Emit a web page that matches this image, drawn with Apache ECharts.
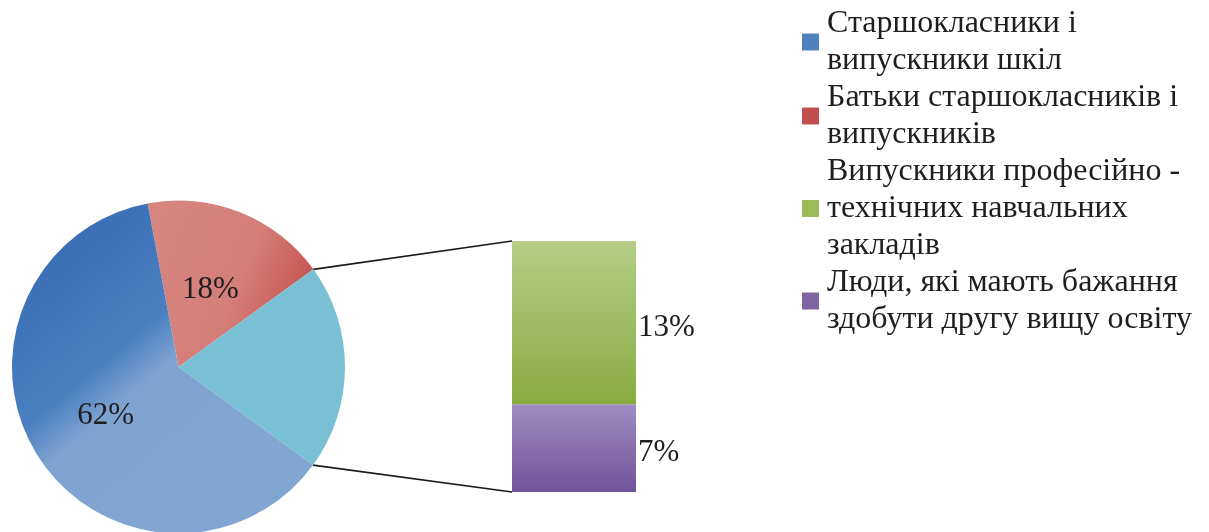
<!DOCTYPE html>
<html>
<head>
<meta charset="utf-8">
<script src="https://cdn.jsdelivr.net/npm/echarts@6/dist/echarts.min.js"></script>
<style>
  html, body { margin: 0; padding: 0; background: #fff; }
  #chart { width: 1209px; height: 532px; }
</style>
</head>
<body>
<div id="chart"></div>
<script>
// Pie slices (clockwise from the start angle) and the breakdown bar of the "other" slice
const pieNames = ['Батьки старшокласників і випускників', 'Інші', 'Старшокласники і випускники шкіл'];
const pieValues = [18, 20, 62];
const barNames = ['Люди, які мають бажання здобути другу вищу освіту', 'Випускники професійно - технічних навчальних закладів'];
const barValues = [7, 13];
const legendOrder = [
  'Старшокласники і випускники шкіл',
  'Батьки старшокласників і випускників',
  'Випускники професійно - технічних навчальних закладів',
  'Люди, які мають бажання здобути другу вищу освіту'
];
const legendLines = {
  'Старшокласники і випускники шкіл': 'Старшокласники і\nвипускники шкіл',
  'Батьки старшокласників і випускників': 'Батьки старшокласників і\nвипускників',
  'Випускники професійно - технічних навчальних закладів': 'Випускники професійно -\nтехнічних навчальних\nзакладів',
  'Люди, які мають бажання здобути другу вищу освіту': 'Люди, які мають бажання\nздобути другу вищу освіту'
};
const legendColors = ['#4f81bd', '#c0504d', '#9bbb59', '#8064a2'];

const FONT = '"Liberation Serif", "DejaVu Serif", serif';
const TEXT = '#1e1e1e';
const CX = 178.5, CY = 367, R = 166.5;
const START = 100.7;

const sliceStyles = [
  { color: { type: 'linear', x: 0, y: 0.3, x2: 1, y2: 0.7, colorStops: [
      { offset: 0, color: '#d6857f' }, { offset: 0.55, color: '#d47d79' }, { offset: 1, color: '#c24c48' }] } },
  { color: '#79c0d4' },
  { color: { type: 'linear', x: 0.15, y: 0.1, x2: 0.75, y2: 0.75, colorStops: [
      { offset: 0, color: '#3a6db5' }, { offset: 0.45, color: '#4a80c1' }, { offset: 0.6, color: '#7ea3d1' }, { offset: 1, color: '#82a6d2' }] } }
];
const barStyles = [
  { color: { type: 'linear', x: 0, y: 0, x2: 0, y2: 1, colorStops: [
      { offset: 0, color: '#9f8dc2' }, { offset: 1, color: '#70539a' }] } },
  { color: { type: 'linear', x: 0, y: 0, x2: 0, y2: 1, colorStops: [
      { offset: 0, color: '#b5cd86' }, { offset: 1, color: '#88ab41' }] } }
];

const chart = echarts.init(document.getElementById('chart'), null, { renderer: 'canvas' });

const pctLabel = { fontFamily: FONT, fontSize: 31, color: TEXT };

const option = {
  animation: false,
  backgroundColor: '#ffffff',
  legend: {
    orient: 'vertical',
    left: 802,
    top: 5,
    padding: 0,
    itemGap: 0,
    itemWidth: 17,
    itemHeight: 17,
    icon: 'rect',
    selectedMode: false,
    data: legendOrder.map((n, i) => ({ name: n, itemStyle: { color: legendColors[i] } })),
    formatter: n => legendLines[n],
    textStyle: { fontFamily: FONT, fontSize: 32, color: TEXT, lineHeight: 37, padding: [0, 0, 0, 3] }
  },
  grid: { left: 512, top: 241, width: 124, height: 251 },
  xAxis: { type: 'category', data: ['x'], show: false },
  yAxis: { type: 'value', min: 0, max: barValues.reduce((a, b) => a + b, 0), show: false },
  series: [
    {
      type: 'pie',
      center: [CX, CY],
      radius: R,
      startAngle: START,
      clockwise: true,
      silent: true,
      label: { show: false },
      labelLine: { show: false },
      data: pieNames.map((n, i) => ({
        name: n,
        value: pieValues[i],
        itemStyle: sliceStyles[i],
        label: i === 1 ? { show: false } : Object.assign({ show: true, position: 'inside', formatter: '{c}%', offset: [0, 3] }, pctLabel)
      }))
    },
    ...barNames.map((n, i) => ({
      type: 'bar',
      name: n,
      stack: 'other',
      barWidth: '100%',
      silent: true,
      itemStyle: barStyles[i],
      label: Object.assign({ show: true, position: 'right', distance: 2, offset: [0, 5], formatter: '{c}%' }, pctLabel),
      data: [barValues[i]]
    }))
  ]
};
chart.setOption(option);

// Connector lines from the "other" slice edges to the bar corners
const toRad = d => d * Math.PI / 180;
const pieTotal = pieValues.reduce((a, b) => a + b, 0);
const a1 = START - 360 * pieValues[0] / pieTotal;
const a2 = a1 - 360 * pieValues[1] / pieTotal;
const p1 = [CX + R * Math.cos(toRad(a1)), CY - R * Math.sin(toRad(a1))];
const p2 = [CX + R * Math.cos(toRad(a2)), CY - R * Math.sin(toRad(a2))];
const barTotal = barValues.reduce((a, b) => a + b, 0);
const barTop = chart.convertToPixel({ gridIndex: 0 }, [0, barTotal]);
const barBottom = chart.convertToPixel({ gridIndex: 0 }, [0, 0]);
const barLeft = 512;
chart.setOption({
  graphic: [
    { type: 'line', shape: { x1: p1[0], y1: p1[1], x2: barLeft, y2: barTop[1] }, style: { stroke: '#1a1a1a', lineWidth: 1.6 }, z: 10 },
    { type: 'line', shape: { x1: p2[0], y1: p2[1], x2: barLeft, y2: barBottom[1] }, style: { stroke: '#1a1a1a', lineWidth: 1.6 }, z: 10 }
  ]
});
</script>
</body>
</html>
